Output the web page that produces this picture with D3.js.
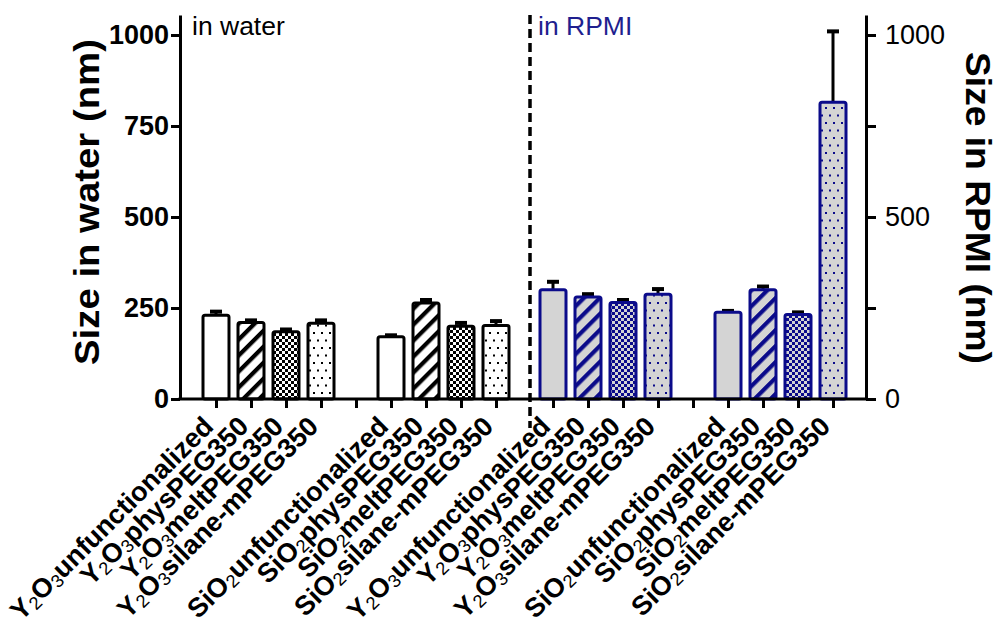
<!DOCTYPE html>
<html><head><meta charset="utf-8">
<script src="https://cdn.jsdelivr.net/npm/d3@7"></script>
<style>
body{margin:0;background:#fff}
svg{display:block}
text{font-family:"Liberation Sans",Arial,Helvetica,sans-serif}
</style>
</head><body>
<svg id="chart" width="1000" height="630"></svg>
<script>
// ---------------- data ----------------
const media = ["water", "RPMI"];
const materials = ["Y2O3", "SiO2"];
const coatings = ["unfunctionalized", "physPEG350", "meltPEG350", "silane-mPEG350"];
const coatingPatterns = ["plain", "stripes", "checker", "dots"];
// order: Y2O3 x4 coatings, then SiO2 x4 coatings
const waterValues = [230, 210, 185, 208, 171, 264, 200, 202];
const waterErrors = [10, 6, 6, 8, 4, 8, 9, 12];
const rpmiValues  = [300, 280, 265, 288, 238, 300, 232, 815];
const rpmiErrors  = [22, 8, 7, 14, 4, 9, 6, 195];
const leftTicks = [0, 250, 500, 750, 1000];
const rightTicks = [0, 250, 500, 750, 1000];
const rightTickLabels = [0, 500, 1000];
const panelTitles = ["in water", "in RPMI"];

// ---------------- layout ----------------
const svg = d3.select("#chart");
const X_LEFT = 180, X_RIGHT = 866, Y_BOTTOM = 399, Y_TOP = 15;
const DIVIDER_X = 530;
const BAR_W = 26;
const NAVY = "#0b0b8a";
const GRAY = "#d4d4d4";

const y = d3.scaleLinear().domain([0, 1055]).range([Y_BOTTOM, Y_TOP]);
const slots = d3.range(9); // 4 bars, gap, 4 bars
const xWater = d3.scalePoint().domain(slots).range([216, 496]);
const xRpmi  = d3.scalePoint().domain(slots).range([553, 833]);

// ---------------- patterns ----------------
const defs = svg.append("defs");
function makePatterns(prefix, ink, bg) {
  const s = defs.append("pattern").attr("id", prefix + "-stripes")
    .attr("patternUnits", "userSpaceOnUse").attr("width", 11.3).attr("height", 11.3)
    .attr("patternTransform", "rotate(45)");
  s.append("rect").attr("width", 11.3).attr("height", 11.3).attr("fill", bg);
  s.append("rect").attr("x", 0).attr("width", 4.2).attr("height", 11.3).attr("fill", ink);
  const c = defs.append("pattern").attr("id", prefix + "-checker")
    .attr("patternUnits", "userSpaceOnUse").attr("width", 6).attr("height", 6);
  c.append("rect").attr("width", 6).attr("height", 6).attr("fill", bg);
  c.append("rect").attr("width", 3).attr("height", 3).attr("fill", ink);
  c.append("rect").attr("x", 3).attr("y", 3).attr("width", 3).attr("height", 3).attr("fill", ink);
  const d = defs.append("pattern").attr("id", prefix + "-dots")
    .attr("patternUnits", "userSpaceOnUse").attr("width", 8).attr("height", 15);
  d.append("rect").attr("width", 8).attr("height", 15).attr("fill", bg);
  d.append("rect").attr("x", 1).attr("y", 2).attr("width", 2).attr("height", 2).attr("fill", ink);
  d.append("rect").attr("x", 5).attr("y", 9.5).attr("width", 2).attr("height", 2).attr("fill", ink);
}
makePatterns("w", "#000", "#fff");
makePatterns("r", NAVY, GRAY);

function fillFor(prefix, bg, p) {
  return p === "plain" ? bg : `url(#${prefix}-${p})`;
}

// ---------------- bars ----------------
function buildRows(values, errors) {
  const rows = [];
  materials.forEach((m, mi) => coatings.forEach((c, ci) => {
    const k = mi * 4 + ci;
    rows.push({ material: m, coating: c, slot: mi * 5 + ci, pattern: coatingPatterns[ci], value: values[k], err: errors[k] });
  }));
  return rows;
}
const panels = [
  { rows: buildRows(waterValues, waterErrors), x: xWater, prefix: "w", stroke: "#000", bg: "#fff" },
  { rows: buildRows(rpmiValues, rpmiErrors), x: xRpmi, prefix: "r", stroke: NAVY, bg: GRAY }
];

panels.forEach(P => {
  const g = svg.append("g");
  const eb = g.selectAll(".eb").data(P.rows).join("g");
  eb.append("line")
    .attr("x1", d => P.x(d.slot)).attr("x2", d => P.x(d.slot))
    .attr("y1", d => y(d.value)).attr("y2", d => y(d.value + d.err))
    .attr("stroke", "#000").attr("stroke-width", 3);
  eb.append("line")
    .attr("x1", d => P.x(d.slot) - 6).attr("x2", d => P.x(d.slot) + 6)
    .attr("y1", d => y(d.value + d.err)).attr("y2", d => y(d.value + d.err))
    .attr("stroke", "#000").attr("stroke-width", 4);
  g.selectAll(".bar").data(P.rows).join("rect")
    .attr("x", d => P.x(d.slot) - BAR_W / 2)
    .attr("width", BAR_W)
    .attr("y", d => y(d.value))
    .attr("height", d => y(0) - y(d.value))
    .attr("rx", 2)
    .attr("fill", d => fillFor(P.prefix, P.bg, d.pattern))
    .attr("stroke", P.stroke).attr("stroke-width", 3)
    .attr("stroke-linejoin", "round");
});

// ---------------- axes ----------------
const axisStyle = sel => {
  sel.selectAll("path,line").attr("stroke", "#000").attr("stroke-width", 3);
};
const la = svg.append("g").attr("transform", `translate(${X_LEFT},0)`)
  .call(d3.axisLeft(y).tickValues(leftTicks).tickSize(9).tickSizeOuter(0).tickPadding(2)
    .tickFormat(d3.format("d")));
axisStyle(la);
la.selectAll("text").attr("font-size", 27).attr("font-weight", "bold").attr("fill", "#000");
const ra = svg.append("g").attr("transform", `translate(${X_RIGHT},0)`)
  .call(d3.axisRight(y).tickValues(rightTicks).tickSize(10).tickSizeOuter(0).tickPadding(9)
    .tickFormat(d => rightTickLabels.includes(d) ? d3.format("d")(d) : ""));
axisStyle(ra);
ra.selectAll("text").attr("font-size", 27).attr("fill", "#000");
[xWater, xRpmi].forEach(xs => {
  const ax = svg.append("g").attr("transform", `translate(0,${Y_BOTTOM})`)
    .call(d3.axisBottom(xs).tickSize(9).tickSizeOuter(0).tickFormat(""));
  ax.select(".domain").remove();
  axisStyle(ax);
});
svg.append("line").attr("x1", X_LEFT - 1.5).attr("x2", X_RIGHT + 1.5)
  .attr("y1", Y_BOTTOM).attr("y2", Y_BOTTOM)
  .attr("stroke", "#000").attr("stroke-width", 3);

svg.append("line").attr("x1", DIVIDER_X).attr("x2", DIVIDER_X)
  .attr("y1", Y_TOP).attr("y2", 428)
  .attr("stroke", "#000").attr("stroke-width", 3.5).attr("stroke-dasharray", "9,5");

// ---------------- category labels ----------------
function writeFormula(text, material, coating) {
  let sub = false;
  for (const ch of material) {
    if (/\d/.test(ch)) {
      text.append("tspan").attr("font-size", "0.68em").attr("font-weight", "normal")
        .attr("dy", sub ? 0 : 3).text(ch);
      sub = true;
    } else {
      text.append("tspan").attr("dy", sub ? -3 : 0).text(ch);
      sub = false;
    }
  }
  text.append("tspan").attr("dy", sub ? -3 : 0).text(coating);
}
panels.forEach(P => {
  P.rows.forEach(d => {
    const t = svg.append("text")
      .attr("transform", `translate(${P.x(d.slot) - 1},428) rotate(-45)`)
      .attr("text-anchor", "end").attr("font-size", 27).attr("font-weight", "bold").attr("fill", "#000");
    writeFormula(t, d.material, d.coating);
  });
});

// ---------------- titles ----------------
svg.append("text").attr("transform", "translate(99,202) rotate(-90)")
  .attr("text-anchor", "middle").attr("font-size", 35).attr("font-weight", "bold")
  .attr("textLength", 326).attr("lengthAdjust", "spacingAndGlyphs")
  .text("Size in water (nm)");
svg.append("text").attr("transform", "translate(966,208) rotate(90)")
  .attr("text-anchor", "middle").attr("font-size", 35).attr("font-weight", "bold")
  .attr("textLength", 312).attr("lengthAdjust", "spacingAndGlyphs")
  .text("Size in RPMI (nm)");
svg.append("text").attr("x", 192).attr("y", 35).attr("font-size", 26.5).text(panelTitles[0]);
svg.append("text").attr("x", 538).attr("y", 35).attr("font-size", 26.5).attr("fill", "#1f1f8f").text(panelTitles[1]);
</script>
</body></html>
